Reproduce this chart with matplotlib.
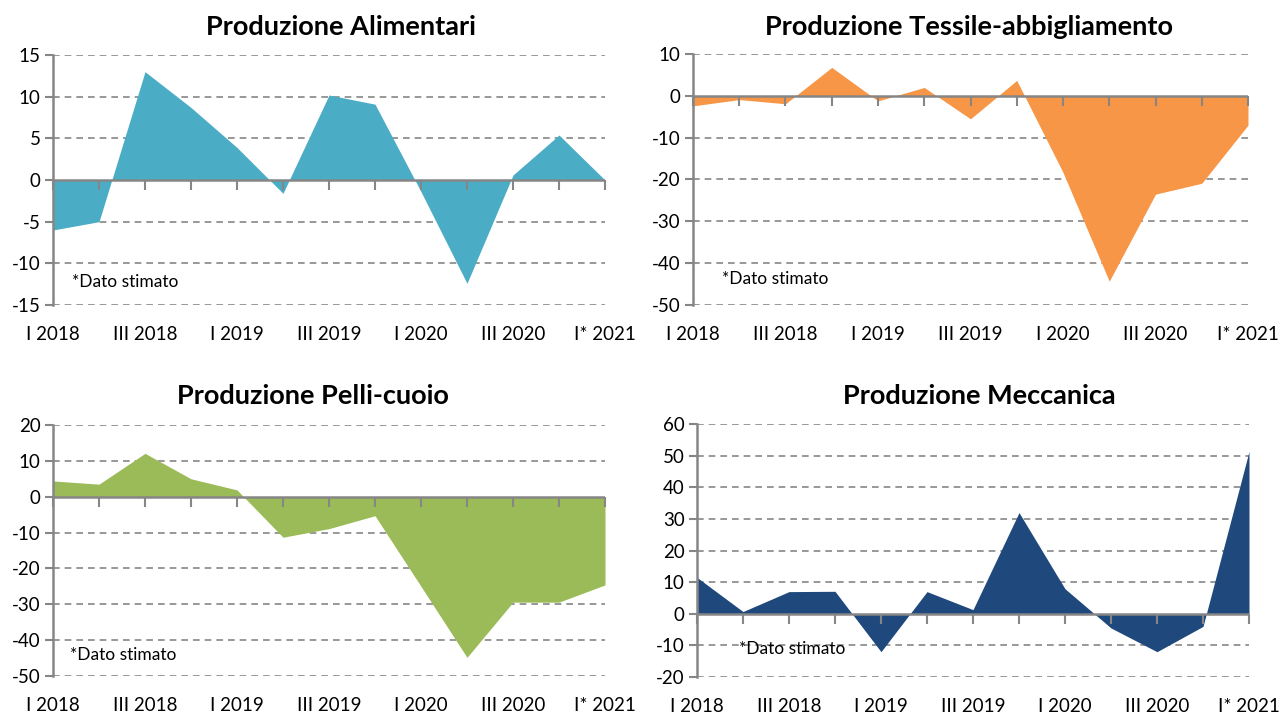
import matplotlib
matplotlib.use("Agg")
import matplotlib.pyplot as plt
import numpy as np

plt.rcParams['font.family'] = ['Lato', 'DejaVu Sans']

quarters = ["I 2018", "II 2018", "III 2018", "IV 2018",
            "I 2019", "II 2019", "III 2019", "IV 2019",
            "I 2020", "II 2020", "III 2020", "IV 2020", "I* 2021"]

alimentari = [-6.0, -5.0, 13.0, 8.7, 3.9, -1.6, 10.2, 9.1, -1.4, -12.4, 0.6, 5.4, 0.0]
tessile = [-2.4, -0.9, -1.9, 6.8, -1.2, 2.0, -5.5, 3.7, -18.3, -44.3, -23.5, -20.9, -7.0]
pelli = [4.4, 3.5, 12.1, 5.0, 1.9, -11.3, -8.9, -5.3, -25.0, -44.8, -29.4, -29.4, -24.6]
meccanica = [11.5, 0.7, 7.0, 7.1, -12.0, 7.0, 1.3, 32.0, 7.9, -4.5, -12.0, -4.0, 51.3]

titles = ["Produzione Alimentari", "Produzione Tessile-abbigliamento",
          "Produzione Pelli-cuoio", "Produzione Meccanica"]
colors = ["#4BACC6", "#F79646", "#9BBB59", "#1F497D"]
series = [alimentari, tessile, pelli, meccanica]
yranges = [(-15, 15, 5), (-50, 10, 10), (-50, 20, 10), (-20, 60, 10)]
note = "*Dato stimato"

W, H = 1288, 713
# axes boxes in pixels: left, right, top, bottom
boxes = [(53, 605, 55, 305), (693, 1248, 54, 305),
         (53, 605, 425, 676), (697, 1249, 424, 677)]
note_pos = [(72, 282), (722, 279), (70, 655), (739, 649)]
title_pos = [(341, 27), (969, 27), (313, 396), (979, 396)]

fig = plt.figure(figsize=(W / 100, H / 100), dpi=100)
gray = "#868686"

for i in range(4):
    l, r, t, b = boxes[i]
    ax = fig.add_axes([l / W, 1 - b / H, (r - l) / W, (b - t) / H])
    x = np.arange(len(quarters))
    y = np.array(series[i])
    ax.fill_between(x, 0, y, color=colors[i], linewidth=0)
    lo, hi, step = yranges[i]
    ax.set_ylim(lo, hi)
    ax.set_xlim(0, len(quarters) - 1)
    yt = np.arange(lo, hi + 0.1, step)
    ax.set_yticks(yt)
    ax.set_yticklabels([str(int(v)) for v in yt], fontsize=13.5)
    for v in yt:
        if v != 0:
            ax.axhline(v, color=gray, lw=1.2, ls=(0, (4, 3)), zorder=0)
    ax.axhline(0, color=gray, lw=1.8, zorder=3)
    ax.plot(x, np.zeros(len(x)), linestyle='none', marker=3, ms=7,
            mew=1.5, color=gray, zorder=3, clip_on=False)
    ax.set_xticks(x[::2])
    ax.set_xticklabels(quarters[::2], fontsize=13.5)
    ax.tick_params(axis='x', length=0, pad=15)
    ax.tick_params(axis='y', length=6, width=1.5, color=gray, pad=3, direction='out')
    for s in ['top', 'right', 'bottom']:
        ax.spines[s].set_visible(False)
    ax.spines['left'].set_color(gray)
    ax.spines['left'].set_linewidth(1.8)
    ax.spines['left'].set_zorder(4)
    nx, ny = note_pos[i]
    ax.text((nx - l) / (r - l), (b - ny) / (b - t), note, transform=ax.transAxes,
            fontsize=12.5, ha='left', va='center')
    tx, ty = title_pos[i]
    fig.text(tx / W, 1 - ty / H, titles[i], ha='center',
             va='center', fontsize=19.5, fontweight='bold')

fig.savefig("out.png", dpi=100)
